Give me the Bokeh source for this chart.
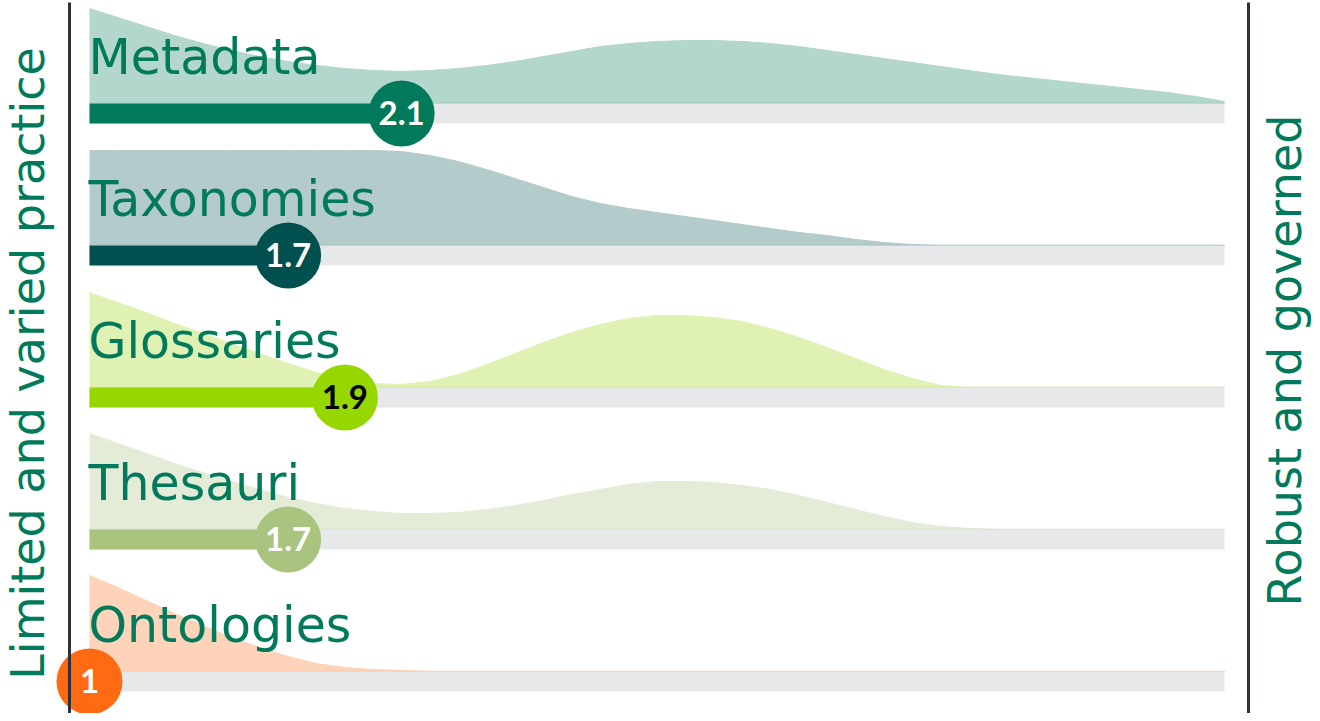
import math
from bokeh.plotting import figure
from bokeh.models import Range1d
from bokeh.core.properties import value
from bokeh.embed import file_html
from bokeh.resources import INLINE

# ---------------- data ----------------
rows = ["Metadata", "Taxonomies", "Glossaries", "Thesauri", "Ontologies"]
scores = [2.1, 1.7, 1.9, 1.7, 1.0]
score_labels = ["2.1", "1.7", "1.9", "1.7", "1"]
left_caption = "Limited and varied practice"
right_caption = "Robust and governed"

grid = [1.0, 1.1, 1.2, 1.3, 1.4, 1.5, 1.6, 1.7, 1.8, 1.9, 2.0,
        2.1, 2.2, 2.3, 2.4, 2.5, 2.6, 2.7, 2.8, 2.9, 3.0,
        3.1, 3.2, 3.3, 3.4, 3.5, 3.6, 3.7, 3.8, 3.9, 4.0,
        4.1, 4.2, 4.3, 4.4, 4.5, 4.6, 4.7, 4.8, 4.9, 5.0]
dens_metadata = [95, 86, 77, 68, 60, 53, 47, 42, 38, 35, 33,
                 32, 33, 35, 38, 42, 47, 52, 57, 60, 62,
                 63, 63, 62, 60, 57, 53, 49, 45, 41, 37,
                 33, 29, 26, 23, 20, 17, 14, 11, 7, 2]
dens_taxonomies = [95, 95, 95, 95, 95, 95, 95, 95, 95, 95, 95,
                   94, 90, 84, 76, 67, 58, 49, 42, 37, 33,
                   29, 25, 21, 17, 13, 10, 6, 3, 1, 0,
                   0, 0, 0, 0, 0, 0, 0, 0, 0, 0]
dens_glossaries = [95, 85, 75, 64, 54, 44, 34, 24, 15, 8, 4,
                   3, 6, 13, 23, 34, 45, 55, 63, 69, 72,
                   72, 70, 66, 59, 50, 40, 29, 18, 9, 2,
                   0, 0, 0, 0, 0, 0, 0, 0, 0, 0]
dens_thesauri = [96, 86, 76, 66, 57, 48, 40, 32, 26, 21, 18,
                 16, 16, 17, 20, 24, 29, 35, 40, 45, 48,
                 48, 47, 44, 40, 34, 27, 20, 13, 7, 3,
                 1, 0, 0, 0, 0, 0, 0, 0, 0, 0]
dens_ontologies = [96, 84, 71, 58, 46, 34, 24, 15, 8, 4, 2,
                   1, 0, 0, 0, 0, 0, 0, 0, 0, 0,
                   0, 0, 0, 0, 0, 0, 0, 0, 0, 0,
                   0, 0, 0, 0, 0, 0, 0, 0, 0, 0]
densities = [dens_metadata, dens_taxonomies, dens_glossaries, dens_thesauri, dens_ontologies]

scale_min, scale_max = 1.0, 5.0

# ---------------- styles ----------------
bar_colors = ["#007A5A", "#00504F", "#97D700", "#A8C47F", "#FF6A13"]
area_colors = ["#B3D6CD", "#B3CBCA", "#E0F2B3", "#E4ECD8", "#FDD3BA"]
edge_colors = ["#9CC9BD", "#9DBDBC", "#CDE79A", "#D2E0C1", "#F9C4A4"]
num_colors = ["white", "white", "black", "white", "white"]
green = "#007A5A"
track_color = "#E7E8E9"
rule_color = "#2D3138"

W, H = 1312, 713
PX0, PX1 = 89, 1224            # pixel of scale min / max
k = (PX1 - PX0) / (scale_max - scale_min)
xs = scale_min - PX0 / k
xe = xs + W / k


def vx(px):
    return scale_min + (px - PX0) / k


def vy(py):
    return -py


p = figure(width=W, height=H, output_backend="svg", toolbar_location=None,
           x_range=Range1d(xs, xe), y_range=Range1d(-H, 0),
           min_border=0, outline_line_color=None)
p.axis.visible = False
p.grid.visible = False
p.background_fill_color = "white"
p.border_fill_color = "white"

TOP0, STEP, TH = 103, 142, 20
font = "DejaVu Sans"

for i, name in enumerate(rows):
    top = TOP0 + i * STEP
    base = vy(top)
    d = densities[i]
    p.varea(x=grid, y1=[base] * len(grid), y2=[base + v for v in d],
            fill_color=area_colors[i])
    p.line(x=grid, y=[base + v for v in d], line_color=area_colors[i], line_width=1)
    p.line(x=[scale_min, scale_max], y=[base, base], line_color=edge_colors[i], line_width=1.5)
    p.hbar(y=[vy(top + TH / 2)], left=[scale_min], right=[scale_max], height=TH,
           fill_color=track_color, line_color=None)
    p.hbar(y=[vy(top + TH / 2)], left=[scale_min], right=[scores[i]], height=TH,
           fill_color=bar_colors[i], line_color=None)
    p.text(x=[vx(88)], y=[vy(top - 46)], text=[name], text_font=value(font),
           text_font_size="49px", text_color=green, text_align="left",
           text_baseline="middle")

for i in range(len(rows)):
    top = TOP0 + i * STEP
    cy = vy(top + TH / 2)
    p.scatter(x=[scores[i]], y=[cy], marker="circle", size=66,
              fill_color=bar_colors[i], line_color=None)
    p.text(x=[scores[i]], y=[cy + 1], text=[score_labels[i]], text_font=value("Lato"),
           text_font_style="bold", text_font_size="33px", text_color=num_colors[i],
           text_align="center", text_baseline="middle")

# side captions
p.text(x=[vx(27)], y=[vy(363)], text=[left_caption], angle=math.pi / 2,
       text_font=value(font), text_font_size="46px", text_color=green,
       text_align="center", text_baseline="middle")
p.text(x=[vx(1284)], y=[vy(360)], text=[right_caption], angle=math.pi / 2,
       text_font=value(font), text_font_size="46px", text_color=green,
       text_align="center", text_baseline="middle")

# vertical rules
for px in (69, 1248):
    p.segment(x0=[vx(px)], y0=[vy(2)], x1=[vx(px)], y1=[vy(730)],
              line_color=rule_color, line_width=3)

open("out.html", "w").write(file_html(p, INLINE))
